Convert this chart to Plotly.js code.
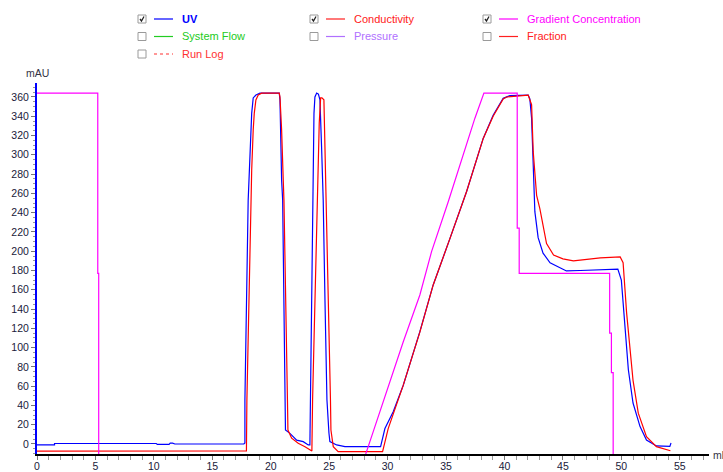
<!DOCTYPE html>
<html>
<head>
<meta charset="utf-8">
<script src="https://cdn.plot.ly/plotly-3.0.1.min.js"></script>
<style>
  html, body { margin: 0; padding: 0; background: #ffffff; }
  #chart { width: 723px; height: 472px; }
</style>
</head>
<body>
<div id="chart"></div>
<script>
// ---- data (ml vs mAU) ----
const uvX = [0, 1.5, 1.5, 10.2, 10.3, 11.3, 11.4, 11.6, 11.8, 17.0, 17.7, 17.79, 17.79, 18.07, 18.16, 18.28, 18.37, 18.50, 18.73, 19.08, 20.73, 20.79, 20.85, 20.93, 21.02, 21.21, 21.26, 21.64, 22.22, 22.78, 23.21, 23.35, 23.40, 23.58, 23.70, 23.78, 23.93, 24.08, 24.21, 24.35, 24.49, 24.64, 24.81, 24.98, 25.06, 25.64, 26.35, 29.4, 29.77, 30.48, 31.34, 32.76, 33.9, 35.33, 36.76, 38.18, 39.03, 39.89, 40.46, 42.03, 42.17, 42.32, 42.46, 42.6, 42.88, 43.3, 43.9, 45.3, 46.5, 48.2, 49.7, 50.0, 50.3, 50.6, 51.0, 51.6, 52.15, 53.0, 54.15, 54.25];
const uvY = [-1, -1, 0.5, 0.5, -0.5, -0.5, 0.8, 0.8, 0, 0, 0, 1, 45.6, 253, 284, 326, 343, 359, 362, 364, 364, 357, 315, 274, 253, 45.6, 14.5, 11, 4, 2.4, -1, -1, 45.6, 253, 343, 360, 364, 363, 357, 308, 253, 149, 45.6, 11.4, 2.4, -1, -2.8, -2.8, 16, 33.5, 61, 116.5, 165, 213, 262, 317, 341, 358.6, 361.4, 362, 358, 338, 275.6, 241, 214, 198, 188, 179.5, 180, 180.5, 181.5, 170, 118, 77, 42.5, 18, 4, -2, -2.5, 1];

const condX = [0, 17.85, 17.92, 17.96, 18.28, 18.37, 18.50, 18.59, 18.73, 18.93, 19.22, 20.73, 20.79, 20.93, 21.07, 21.13, 21.43, 21.47, 21.79, 22.35, 22.93, 23.35, 23.52, 23.58, 23.78, 24.04, 24.15, 24.27, 24.38, 24.55, 24.64, 24.78, 24.98, 25.11, 25.15, 25.35, 25.77, 29.57, 30.05, 30.77, 31.34, 32.76, 33.9, 35.33, 36.76, 38.18, 39.03, 39.89, 40.18, 42.03, 42.32, 42.46, 42.75, 43.03, 43.3, 43.6, 44.2, 45.0, 45.9, 48.2, 49.9, 50.15, 50.45, 50.7, 51.0, 51.45, 52.15, 53.0, 54.15, 54.2];
const condY = [-7.5, -7.5, -7.3, 45.6, 253, 284, 326, 343, 357, 362, 364, 364, 360, 326, 274, 253, 45.6, 14.5, 6, 0.7, -2.8, -6.2, -7.3, 45.6, 149, 253, 333, 359, 359, 357, 308, 253, 149, 45.6, 14.5, -2.8, -8, -8, 16, 40.5, 61, 116, 165, 213, 262, 317, 340, 358, 360, 362, 352, 303, 258, 244, 225, 208, 196, 192, 190, 193, 194, 188, 136, 101, 66, 32, 7.6, -2.8, -7, -7];

const gradX = [0, 5.2, 5.2, 5.28, 5.28, 28.0, 28.77, 29.91, 31.34, 32.76, 33.76, 35.18, 36.47, 37.47, 38.24, 41.09, 41.09, 41.26, 41.26, 49.0, 49.0, 49.15, 49.15, 49.3, 49.3];
const gradY = [364, 364, 177, 177, -15, -15, 12.8, 54, 106, 154.6, 199.5, 251, 300, 338, 364, 364, 224, 224, 177, 177, 115, 115, 74, 74, -15];

const xTickVals = [0, 5, 10, 15, 20, 25, 30, 35, 40, 45, 50, 55];
const yTickVals = [0, 20, 40, 60, 80, 100, 120, 140, 160, 180, 200, 220, 240, 260, 280, 300, 320, 340, 360];

const legendNames   = ["UV", "Conductivity", "Gradient Concentration", "System Flow", "Pressure", "Fraction", "Run Log"];
const legendColors  = ["#0000ff", "#ff2020", "#ff00ff", "#22cc22", "#b070ff", "#ff2020", "#ff3030"];
const legendChecked = [true, true, true, false, false, false, false];

// ---- layout geometry (pixels) ----
const W = 723, H = 472;
const M = {l: 37, r: 14, t: 83, b: 18};
const PW = W - M.l - M.r, PH = H - M.t - M.b;
const px = x => (x - M.l) / PW;
const py = y => (H - M.b - y) / PH;

const traces = [
  {x: uvX, y: uvY, type: 'scatter', mode: 'lines', line: {color: '#0000ff', width: 1.2}, hoverinfo: 'skip'},
  {x: condX, y: condY, type: 'scatter', mode: 'lines', line: {color: '#ff0000', width: 1.2}, hoverinfo: 'skip'},
  {x: gradX, y: gradY, type: 'scatter', mode: 'lines', line: {color: '#ff00ff', width: 1.2}, hoverinfo: 'skip'}
];

const shapes = [];
const annotations = [];
const colX = [138, 310, 483];
const rowY = [19, 36.5, 54];
const slots = [[0,0],[1,0],[2,0],[0,1],[1,1],[2,1],[0,2]];
legendNames.forEach((name, i) => {
  const [c, r] = slots[i];
  const bx = colX[c], by = rowY[r];
  shapes.push({type: 'rect', xref: 'paper', yref: 'paper',
    x0: px(bx), x1: px(bx + 8), y0: py(by - 4), y1: py(by + 4),
    line: {color: '#9a9a9a', width: 1}, fillcolor: '#ffffff'});
  if (legendChecked[i]) {
    shapes.push({type: 'path', xref: 'paper', yref: 'paper',
      path: `M ${px(bx+2)} ${py(by)} L ${px(bx+3.5)} ${py(by+2)} L ${px(bx+6)} ${py(by-2.5)}`,
      line: {color: '#222222', width: 1.3}});
  }
  shapes.push({type: 'line', xref: 'paper', yref: 'paper',
    x0: px(bx + 16), x1: px(bx + 35), y0: py(by), y1: py(by),
    line: {color: legendColors[i], width: 1.2, dash: name === 'Run Log' ? 'dot' : 'solid'}});
  annotations.push({xref: 'paper', yref: 'paper', x: px(bx + 42), y: py(by),
    xanchor: 'left', yanchor: 'middle', showarrow: false,
    text: name === 'UV' ? '<b>UV</b>' : name,
    font: {family: 'Liberation Sans, Arial, sans-serif', size: 11, color: legendColors[i]}});
});

annotations.push({xref: 'paper', yref: 'paper', x: px(37), y: py(73), xanchor: 'center', yanchor: 'middle',
  showarrow: false, text: 'mAU', font: {family: 'Liberation Sans, Arial, sans-serif', size: 10.5, color: '#333344'}});
annotations.push({xref: 'paper', yref: 'paper', x: px(711), y: py(455), xanchor: 'left', yanchor: 'middle',
  showarrow: false, text: 'ml', font: {family: 'Liberation Sans, Arial, sans-serif', size: 10.5, color: '#333344'}});

const layout = {
  width: W, height: H,
  margin: M,
  paper_bgcolor: '#ffffff', plot_bgcolor: '#ffffff',
  showlegend: false,
  font: {family: 'Liberation Sans, Arial, sans-serif', size: 10.5, color: '#1a1a3a'},
  xaxis: {
    range: [0, 57.5], showgrid: false, zeroline: false,
    showline: true, linecolor: '#000000', linewidth: 2,
    tickmode: 'array', tickvals: xTickVals, ticktext: xTickVals.map(String),
    ticks: 'outside', ticklen: 4, tickcolor: '#777777', tickwidth: 1,
    ticklabelstandoff: -3,
    minor: {dtick: 1, ticks: 'outside', ticklen: 4, tickcolor: '#999999', tickwidth: 1},
    fixedrange: true
  },
  yaxis: {
    range: [-10.4, 374.5], showgrid: false, zeroline: false,
    showline: true, linecolor: '#0000ff', linewidth: 2,
    tickmode: 'array', tickvals: yTickVals, ticktext: yTickVals.map(String),
    ticks: 'outside', ticklen: 4, tickcolor: '#777777', tickwidth: 1,
    minor: {dtick: 5, ticks: 'outside', ticklen: 2, tickcolor: '#999999', tickwidth: 1},
    fixedrange: true
  },
  shapes: shapes,
  annotations: annotations
};

Plotly.newPlot('chart', traces, layout, {displayModeBar: false, staticPlot: true});
</script>
</body>
</html>
